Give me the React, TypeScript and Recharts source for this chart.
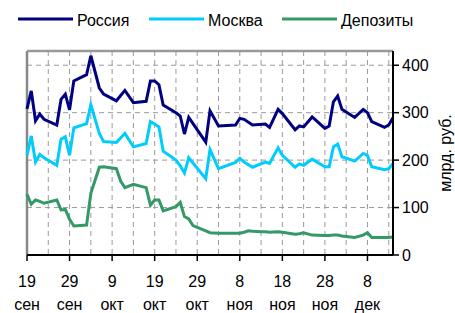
import { LineChart, Line, XAxis, YAxis, CartesianGrid, ReferenceLine } from 'recharts'

// days since 19 Sep
const days = [0, 1, 2, 3, 4, 7, 8, 9, 10, 11, 14, 15, 17, 18, 21, 22, 23, 25, 28, 29, 30, 31, 32, 35, 36, 37, 38, 39, 42, 43, 45, 49, 50, 51, 52, 53, 55, 56, 57, 59, 60, 63, 64, 65, 67, 70, 71, 72, 73, 74, 77, 79, 80, 81, 84, 85, 86]
const russia = [308, 346, 283, 297, 286, 274, 328, 339, 306, 367, 380, 420, 352, 339, 325, null, 347, 321, 324, 367, 367, 359, 316, 300, 293, 255, 290, null, 238, 304, 272, 274, 288, 286, null, 274, null, 276, 269, 307, 298, 264, 272, 270, 291, 267, 272, 323, 335, 307, 290, 307, 300, 281, 269, 274, 289]
const moscow = [210, 251, 196, 212, 205, 189, 244, 249, 210, 268, 277, 317, 256, 239, 237, null, 256, 228, 235, 281, 276, 270, 219, 200, 188, 173, 205, null, 161, 222, 182, 195, 204, 196, null, 185, null, 196, 193, 226, 210, 185, 192, 189, 202, 186, 186, 228, 234, 207, 198, 214, 210, 186, 180, 182, 193]
const deposits = [128, 107, 116, 113, 109, 116, 95, 96, 75, 61, 63, 130, 185, 186, 182, 156, 142, 149, 142, 105, 116, 116, 93, 102, 111, 81, 76, 62, 51, 47, 46, 46, 46, 48, 51, 50, 49, 49, 48, 49, 48, 44, 45, 47, 42, 41, 41, 42, 42, 40, 37, 42, 47, 37, 37, 37, 38]

const tickDays = [0, 10, 20, 30, 40, 50, 60, 70, 80]
const tickDayLabels = ['19', '29', '9', '19', '29', '8', '18', '28', '8']
const tickMonthLabels = ['сен', 'сен', 'окт', 'окт', 'окт', 'ноя', 'ноя', 'ноя', 'дек']
const gridDays = [5, 10, 15, 20, 25, 30, 35, 40, 45, 50, 55, 60, 65, 70, 75, 80, 85]
const yTicks = [0, 100, 200, 300, 400]

const seriesNames = ['Россия', 'Москва', 'Депозиты']
const seriesColors = ['#000080', '#00CCFF', '#339966']

const data = days.map((d, i) => ({
    day: d,
    russia: russia[i],
    moscow: moscow[i],
    deposits: deposits[i],
}))

const font = '"Liberation Sans", Arial, sans-serif'

function DateTick(props: any) {
    const { x, y, payload } = props
    const idx = tickDays.indexOf(payload.value)
    return (
        <text x={x} y={y} textAnchor="middle" fill="#000" fontSize={16} fontFamily={font}>
            <tspan x={x} dy={24}>{tickDayLabels[idx]}</tspan>
            <tspan x={x} dy={23}>{tickMonthLabels[idx]}</tspan>
        </text>
    )
}

function UnitLabel(props: any) {
    const vb = props.viewBox || { x: 393, y: 51, width: 62, height: 204 }
    const cx = vb.x + vb.width - 10
    const cy = vb.y + vb.height / 2
    return (
        <text
            x={cx}
            y={cy}
            transform={`rotate(-90, ${cx}, ${cy})`}
            textAnchor="middle"
            dominantBaseline="central"
            fontSize={16}
            fontFamily={font}
            fill="#000"
        >
            млрд. руб.
        </text>
    )
}

const legendX = [18, 149, 282]

export default function App() {
    return (
        <div style={{ position: 'absolute', left: 0, top: 0, width: 455, height: 313, background: '#fff', fontFamily: font }}>
            <svg width={455} height={40} style={{ position: 'absolute', left: 0, top: 0 }}>
                {seriesNames.map((name, i) => (
                    <g key={name}>
                        <line x1={legendX[i]} x2={legendX[i] + 55} y1={19} y2={19} stroke={seriesColors[i]} strokeWidth={3} />
                        <text x={legendX[i] + 59} y={26} fontSize={16} fontFamily={font} fill="#000">{name}</text>
                    </g>
                ))}
            </svg>
            <LineChart
                width={455}
                height={313}
                data={data}
                margin={{ top: 51, right: 0, bottom: 0, left: 27 }}
            >
                <CartesianGrid
                    stroke="#9a9a9a"
                    strokeDasharray="5 4"
                    horizontalValues={[100, 200, 300, 400]}
                    verticalValues={gridDays}
                />
                <ReferenceLine x={0} stroke="#888" strokeWidth={2.5} />
                <ReferenceLine y={430} stroke="#999" strokeWidth={2.5} />
                <XAxis
                    dataKey="day"
                    type="number"
                    domain={[0, 86]}
                    ticks={tickDays}
                    interval={0}
                    height={58}
                    tickSize={6}
                    tickMargin={2}
                    axisLine={{ stroke: '#000', strokeWidth: 2 }}
                    tickLine={{ stroke: '#000', strokeWidth: 1.5 }}
                    tick={<DateTick />}
                />
                <YAxis
                    orientation="right"
                    type="number"
                    domain={[0, 430]}
                    ticks={yTicks}
                    interval={0}
                    width={62}
                    tickSize={6}
                    tickMargin={3}
                    axisLine={{ stroke: '#000', strokeWidth: 2 }}
                    tickLine={{ stroke: '#000', strokeWidth: 1.5 }}
                    tick={{ fill: '#000', fontSize: 16, fontFamily: font }}
                    label={<UnitLabel />}
                />
                <Line type="linear" dataKey="deposits" stroke={seriesColors[2]} strokeWidth={3} dot={false} connectNulls isAnimationActive={false} />
                <Line type="linear" dataKey="moscow" stroke={seriesColors[1]} strokeWidth={3} dot={false} connectNulls isAnimationActive={false} />
                <Line type="linear" dataKey="russia" stroke={seriesColors[0]} strokeWidth={3} dot={false} connectNulls isAnimationActive={false} />
            </LineChart>
        </div>
    )
}
